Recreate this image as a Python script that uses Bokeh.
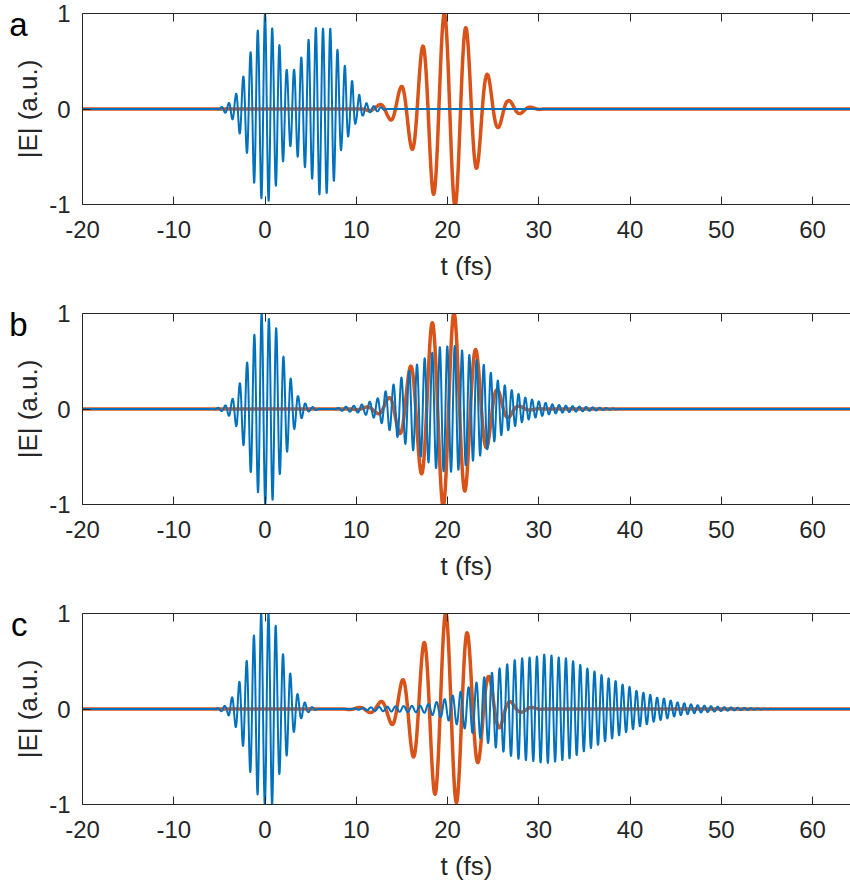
import numpy as np
from bokeh.plotting import figure
from bokeh.layouts import column
from bokeh.models import Range1d, LinearAxis, FixedTicker, CustomJSTickFormatter
from bokeh.embed import file_html
from bokeh.resources import INLINE

# ---------------- data ----------------
x_ticks = [-20, -10, 0, 10, 20, 30, 40, 50, 60]
y_ticks = [-1, 0, 1]
panel_letters = ["a", "b", "c"]
x_label = "t (fs)"
y_label = "|E| (a.u.)"

# panel a, blue: envelope (|extremum| values) and carrier
a_blue_t = [-5.2, -4.46, -4.07, -3.65, -3.25, -2.81, -2.38, -2.01, -1.57, -1.21, -0.80, -0.37,
            0.0, 0.40, 0.84, 1.24, 1.61, 2.01, 2.37, 2.78, 3.18, 3.58, 3.98, 4.38, 4.79, 5.22,
            5.63, 6.03, 6.43, 6.83, 7.23, 7.60, 8.0, 8.4, 8.8, 9.2, 9.6, 9.97, 10.34, 10.7,
            11.15, 11.5, 11.9, 12.6, 13.5]
a_blue_a = [0.0, 0.035, 0.05, 0.10, 0.14, 0.25, 0.34, 0.45, 0.60, 0.77, 0.82, 0.94,
            1.0, 0.96, 0.83, 0.80, 0.66, 0.54, 0.41, 0.39, 0.41, 0.50, 0.54, 0.61, 0.73, 0.73,
            0.87, 0.90, 0.83, 0.89, 0.83, 0.74, 0.60, 0.40, 0.46, 0.25, 0.30, 0.13, 0.15, 0.07,
            0.06, 0.035, 0.03, 0.02, 0.0]
a_blue_peak = 0.0
a_blue_per_t = [0.0]
a_blue_per = [0.795]

# panel a, orange
a_orange_t = [10.5, 12.35, 13.6, 14.83, 16.0, 17.2, 18.44, 19.65, 20.82, 22.03, 23.2, 24.2,
              25.4, 26.66, 27.87, 29.0, 30.5]
a_orange_a = [0.0, 0.035, 0.10, 0.22, 0.40, 0.64, 0.89, 1.0, 1.02, 0.85, 0.62, 0.39,
              0.21, 0.09, 0.05, 0.02, 0.0]
a_orange_peak = 19.65
a_orange_per_t = [0.0]
a_orange_per = [2.38]

# panel b, blue: first pulse
b_blue1_t = [-5.6, -4.9, -4.5, -4.1, -3.6, -3.25, -2.8, -2.4, -2.0, -1.6, -1.2, -0.8, -0.4,
             0.0, 0.45, 0.85, 1.25, 1.65, 2.05, 2.45, 2.85, 3.25, 3.65, 4.1, 4.5, 4.9, 5.3, 6.0]
b_blue1_a = [0.0, 0.02, 0.025, 0.06, 0.10, 0.16, 0.26, 0.37, 0.47, 0.65, 0.77, 0.86, 1.0,
             1.0, 0.94, 0.95, 0.84, 0.67, 0.54, 0.44, 0.31, 0.20, 0.13, 0.09, 0.05, 0.02, 0.02, 0.0]
b_blue1_peak = -0.37
b_blue1_per_t = [0.0]
b_blue1_per = [0.80]

# panel b, blue: second (chirped) pulse
b_blue2_t = [7.5, 8.5, 10.4, 12.2, 14.0, 15.8, 17.5, 19.2, 20.8, 22.5, 24.0, 25.5, 27.0,
             28.5, 30.0, 31.4, 32.9, 34.5, 36.4, 39.0]
b_blue2_a = [0.0, 0.02, 0.04, 0.10, 0.25, 0.40, 0.53, 0.65, 0.66, 0.56, 0.46, 0.30, 0.20,
             0.12, 0.08, 0.05, 0.035, 0.025, 0.015, 0.0]
b_blue2_peak = 19.16
b_blue2_per_t = [14.0, 28.5]
b_blue2_per = [0.87, 0.74]

# panel b, orange
b_orange_t = [9.5, 11.1, 12.2, 13.5, 14.6, 15.8, 17.0, 18.2, 19.5, 20.7, 21.9, 23.0, 24.2,
              25.4, 26.5, 27.6, 29.0, 30.5]
b_orange_a = [0.0, 0.02, 0.04, 0.11, 0.23, 0.42, 0.65, 0.89, 1.02, 1.01, 0.86, 0.64, 0.42,
              0.21, 0.10, 0.035, 0.01, 0.0]
b_orange_peak = 20.72
b_orange_per_t = [0.0]
b_orange_per = [2.40]

# panel c, blue: first pulse
c_blue1_t = [-5.4, -4.62, -4.2, -3.8, -3.38, -2.95, -2.53, -2.11, -1.73, -1.31, -0.9, -0.47,
             -0.05, 0.41, 0.78, 1.16, 1.54, 1.95, 2.33, 2.75, 3.13, 3.55, 3.93, 4.35, 4.72,
             5.14, 5.9]
c_blue1_a = [0.0, 0.03, 0.035, 0.10, 0.15, 0.25, 0.36, 0.46, 0.63, 0.74, 0.87, 1.0,
             1.0, 1.0, 1.0, 0.88, 0.69, 0.58, 0.50, 0.38, 0.25, 0.16, 0.10, 0.07, 0.035,
             0.02, 0.0]
c_blue1_peak = -0.42
c_blue1_per_t = [0.0]
c_blue1_per = [0.80]

# panel c, blue: second (long) pulse
c_blue2_t = [9.0, 12.0, 15.0, 17.3, 18.2, 19.1, 20.1, 21.0, 22.0, 22.9, 23.8, 24.7, 25.6,
             26.4, 27.3, 28.1, 29.0, 29.8, 30.6, 31.4, 32.2, 33.0, 33.8, 34.6, 35.4, 36.2,
             37.0, 37.7, 38.5, 39.3, 40.0, 40.7, 41.5, 42.2, 42.9, 43.7, 44.4, 45.1, 45.9,
             46.6, 47.3, 48.1, 48.8, 49.5, 50.2, 52.0, 54.0, 56.0]
c_blue2_a = [0.0, 0.02, 0.03, 0.035, 0.06, 0.08, 0.12, 0.16, 0.21, 0.26, 0.32, 0.37, 0.42,
             0.46, 0.51, 0.53, 0.54, 0.55, 0.57, 0.56, 0.54, 0.53, 0.50, 0.46, 0.42, 0.39,
             0.35, 0.32, 0.29, 0.25, 0.23, 0.19, 0.17, 0.15, 0.12, 0.11, 0.09, 0.07, 0.06,
             0.05, 0.04, 0.035, 0.03, 0.025, 0.02, 0.012, 0.006, 0.0]
c_blue2_peak = 30.6
c_blue2_per_t = [18.0, 30.0, 48.0]
c_blue2_per = [0.90, 0.80, 0.73]

# panel c, orange
c_orange_t = [8.5, 9.8, 11.0, 12.4, 13.6, 14.8, 16.0, 17.4, 18.6, 19.8, 21.0, 22.1, 23.2,
              24.3, 25.6, 26.6, 27.7, 29.0, 30.5]
c_orange_a = [0.0, 0.01, 0.025, 0.06, 0.13, 0.26, 0.46, 0.69, 0.89, 1.01, 0.98, 0.81, 0.59,
              0.37, 0.21, 0.09, 0.04, 0.02, 0.0]
c_orange_peak = 19.8
c_orange_per_t = [0.0]
c_orange_per = [2.38]

# ---------------- waveform construction ----------------
DT = 0.01
t = np.arange(-20.0, 65.0 + DT / 2, DT)


def carrier(peak, per_t, per_v):
    period = np.interp(t, per_t, per_v)
    phi = np.cumsum(2 * np.pi * DT / period)
    phi = phi - np.interp(peak, t, phi)
    return np.cos(phi)


def field(env_t, env_a, peak, per_t, per_v):
    env = np.interp(t, env_t, env_a, left=0.0, right=0.0)
    return env * carrier(peak, per_t, per_v)


blue_a = field(a_blue_t, a_blue_a, a_blue_peak, a_blue_per_t, a_blue_per)
orange_a = field(a_orange_t, a_orange_a, a_orange_peak, a_orange_per_t, a_orange_per)
blue_b = (field(b_blue1_t, b_blue1_a, b_blue1_peak, b_blue1_per_t, b_blue1_per)
          + field(b_blue2_t, b_blue2_a, b_blue2_peak, b_blue2_per_t, b_blue2_per))
orange_b = field(b_orange_t, b_orange_a, b_orange_peak, b_orange_per_t, b_orange_per)
blue_c = (field(c_blue1_t, c_blue1_a, c_blue1_peak, c_blue1_per_t, c_blue1_per)
          + field(c_blue2_t, c_blue2_a, c_blue2_peak, c_blue2_per_t, c_blue2_per))
orange_c = field(c_orange_t, c_orange_a, c_orange_peak, c_orange_per_t, c_orange_per)

# ---------------- styling ----------------
BLUE = "#0072BD"
ORANGE = "#D95319"
AX = "#262626"
FONT = "Liberation Sans"
LEFT = 82
TOP = 13
FRAME_W = 768
FRAME_H = 191
PX_PER_FS = 9.125
X_END = -20 + FRAME_W / PX_PER_FS


def style_axis(ax):
    ax.axis_line_color = AX
    ax.axis_line_width = 1
    ax.major_tick_line_color = AX
    ax.major_tick_in = 8
    ax.major_tick_out = 0
    ax.minor_tick_line_color = None
    ax.major_label_text_font = FONT
    ax.major_label_text_font_size = "24px"
    ax.major_label_text_color = AX
    ax.axis_label_text_font = FONT
    ax.axis_label_text_font_size = "26px"
    ax.axis_label_text_font_style = "normal"
    ax.axis_label_text_color = AX
    ax.formatter = CustomJSTickFormatter(code="return tick.toFixed(0);")


def make_panel(letter, orange, blue, height):
    p = figure(frame_width=FRAME_W, frame_height=FRAME_H,
               x_range=Range1d(-20, X_END), y_range=Range1d(-1, 1),
               output_backend="svg", toolbar_location=None,
               min_border_left=LEFT, min_border_right=0, min_border_top=TOP,
               min_border_bottom=height - TOP - FRAME_H)
    p.outline_line_color = None
    p.grid.visible = False
    p.background_fill_color = "white"
    p.border_fill_color = "white"

    p.xaxis.ticker = FixedTicker(ticks=x_ticks)
    p.yaxis.ticker = FixedTicker(ticks=y_ticks)
    style_axis(p.xaxis[0])
    style_axis(p.yaxis[0])
    p.xaxis.axis_label = x_label
    p.yaxis.axis_label = y_label
    p.xaxis.major_label_standoff = 16
    p.xaxis.axis_label_standoff = 10
    p.yaxis.major_label_standoff = 12
    p.yaxis.axis_label_standoff = 3

    top = LinearAxis(ticker=FixedTicker(ticks=x_ticks))
    style_axis(top)
    top.major_label_text_font_size = "1px"
    top.major_label_text_color = None
    top.major_label_standoff = 0
    p.add_layout(top, "above")

    # panel letter: a label-only axis placed outside the y axis
    letter_axis = LinearAxis(ticker=FixedTicker(ticks=[1.0]),
                             formatter=CustomJSTickFormatter(code="return '%s';" % letter),
                             axis_line_color=None, major_tick_line_color=None,
                             minor_tick_line_color=None, major_tick_in=0, major_tick_out=0,
                             major_label_standoff=-17, major_label_text_font=FONT,
                             major_label_text_font_size="33px", major_label_text_color="black")
    p.add_layout(letter_axis, "left")

    p.line(t, orange, line_color=ORANGE, line_width=3.5, line_join="round")
    p.line(t, blue, line_color=BLUE, line_width=2, line_join="round")
    return p


pa = make_panel(panel_letters[0], orange_a, blue_a, 300)
pb = make_panel(panel_letters[1], orange_b, blue_b, 300)
pc = make_panel(panel_letters[2], orange_c, blue_c, 286)

layout = column(pa, pb, pc, spacing=0)
open("out.html", "w").write(file_html(layout, INLINE))
